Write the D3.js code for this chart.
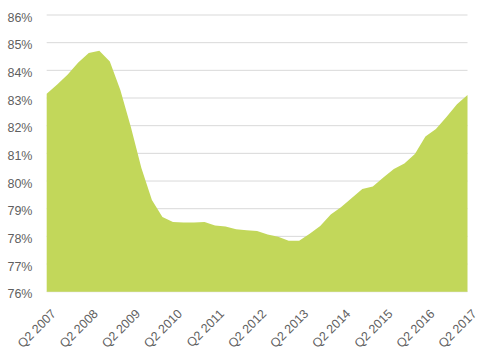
<!DOCTYPE html>
<html>
<head>
<meta charset="utf-8">
<script src="https://cdn.jsdelivr.net/npm/d3@7"></script>
<style>
  html, body { margin: 0; padding: 0; background: #fff; }
  svg { display: block; }
  text { font-family: "Liberation Sans", Arial, sans-serif; fill: #5f5f5f; }
</style>
</head>
<body>
<svg id="chart" width="495" height="354"></svg>
<script>
// Quarterly values, Q2 2007 .. Q2 2017 (percent)
const quarters = d3.range(41);
const values = [
  83.15, 83.49, 83.85, 84.28, 84.63, 84.71, 84.32, 83.29, 81.95, 80.47,
  79.31, 78.70, 78.52, 78.50, 78.50, 78.52, 78.39, 78.36, 78.26, 78.22,
  78.19, 78.07, 77.99, 77.84, 77.84, 78.09, 78.37, 78.79, 79.06, 79.39,
  79.71, 79.80, 80.13, 80.43, 80.63, 80.98, 81.61, 81.88, 82.31, 82.77,
  83.11
];
const xTickIndex = [0, 4, 8, 12, 16, 20, 24, 28, 32, 36, 40];
const xTickLabels = ["Q2 2007","Q2 2008","Q2 2009","Q2 2010","Q2 2011","Q2 2012","Q2 2013","Q2 2014","Q2 2015","Q2 2016","Q2 2017"];
const yTicks = [76, 77, 78, 79, 80, 81, 82, 83, 84, 85, 86];

const svg = d3.select("#chart");
const x = d3.scaleLinear().domain([0, 40]).range([46.7, 467.5]);
const y = d3.scaleLinear().domain([76, 86]).range([291.7, 15]);

// gridlines
svg.append("g").selectAll("line").data(yTicks).join("line")
  .attr("x1", x(0)).attr("x2", x(40))
  .attr("y1", d => y(d)).attr("y2", d => y(d))
  .attr("stroke", "#d9d9d9").attr("stroke-width", 1);

// area
const area = d3.area()
  .x((d, i) => x(quarters[i]))
  .y0(y(76))
  .y1(d => y(d));
svg.append("path").datum(values).attr("d", area).attr("fill", "#c2d75a");

// y labels
svg.append("g").selectAll("text").data(yTicks).join("text")
  .attr("x", 32.5).attr("y", d => y(d)).attr("dy", "0.53em")
  .attr("text-anchor", "end").attr("font-size", 12.5)
  .text(d => d + "%");

// x labels
svg.append("g").selectAll("text").data(xTickIndex).join("text")
  .attr("transform", d => `translate(${x(d) + 10},314.5) rotate(-45)`)
  .attr("text-anchor", "end").attr("font-size", 12.5)
  .text((d, i) => xTickLabels[i]);
</script>
</body>
</html>
